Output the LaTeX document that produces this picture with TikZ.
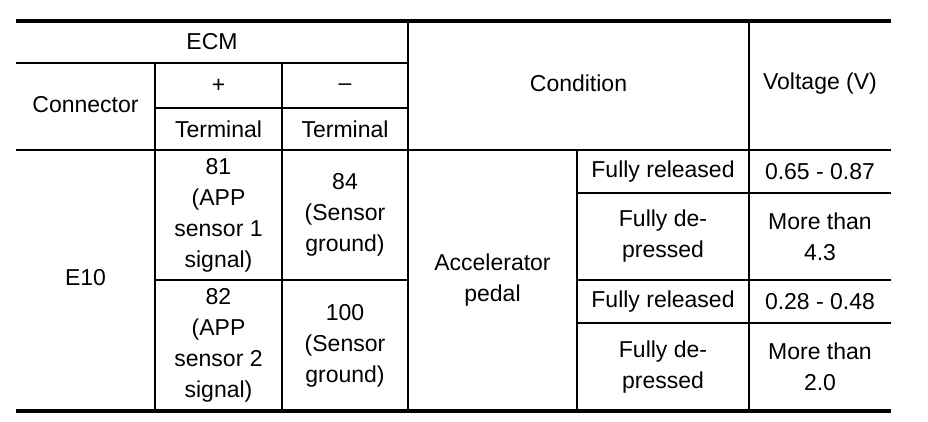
\documentclass[tikz,border=0pt]{standalone}
\usepackage{fontspec}
\setmainfont{Liberation Sans}
\usetikzlibrary{positioning}

\begin{document}
\begin{tikzpicture}[x=1pt, y=-1pt,
    cell/.style={align=center, inner sep=0pt, font=\fontsize{23}{31}\selectfont},
    rule/.style={line width=3.2pt},
    grid/.style={line width=1.8pt},
    fine/.style={line width=1.2pt}]
    \useasboundingbox (0,0) rectangle (928,422);

    % Column edges and row edges
    \def\xa{16} \def\xb{155} \def\xc{282} \def\xd{408} \def\xe{577} \def\xf{749} \def\xg{891}
    \def\ya{21} \def\yb{63} \def\yc{108} \def\yd{150} \def\ye{193} \def\yf{280} \def\yg{323} \def\yh{411}

    % Head
    \node[cell] (ecm)  at ({(\xa+\xd)/2}, {(\ya+\yb)/2}) {ECM};
    \node[cell] (conn) at ({(\xa+\xb)/2}, {(\yb+\yd)/2-2}) {Connector};
    \node[cell] (plus) at ({(\xb+\xc)/2}, {(\yb+\yc)/2}) {+};
    \node[cell] (minus) at ({(\xc+\xd)/2}, {(\yb+\yc)/2+2}) {–};
    \node[cell] (termp) at ({(\xb+\xc)/2}, {(\yc+\yd)/2}) {Terminal};
    \node[cell] (termm) at ({(\xc+\xd)/2}, {(\yc+\yd)/2}) {Terminal};
    \node[cell] (cond) at ({(\xd+\xf)/2}, {(\ya+\yd)/2-2}) {Condition};
    \node[cell] (volt) at ({(\xf+\xg)/2}, {(\ya+\yd)/2-2}) {Voltage (V)};

    % Body
    \node[cell] (e10) at ({(\xa+\xb)/2}, {(\yd+\yh)/2-3}) {E10};
    \node[cell] (t81) at ({(\xb+\xc)/2}, {(\yd+\yf)/2}) {81\\(APP\\sensor 1\\signal)};
    \node[cell] (t84) at ({(\xc+\xd)/2}, {(\yd+\yf)/2}) {84\\(Sensor\\ground)};
    \node[cell] (t82) at ({(\xb+\xc)/2}, {(\yf+\yh)/2}) {82\\(APP\\sensor 2\\signal)};
    \node[cell] (t100) at ({(\xc+\xd)/2}, {(\yf+\yh)/2}) {100\\(Sensor\\ground)};
    \node[cell] (pedal) at ({(\xd+\xe)/2}, {(\yd+\yh)/2}) {Accelerator\\pedal};

    \node[cell] (rel1) at ({(\xe+\xf)/2}, {(\yd+\ye)/2}) {Fully released};
    \node[cell] (dep1) at ({(\xe+\xf)/2}, {(\ye+\yf)/2}) {Fully de-\\pressed};
    \node[cell] (rel2) at ({(\xe+\xf)/2}, {(\yf+\yg)/2}) {Fully released};
    \node[cell] (dep2) at ({(\xe+\xf)/2}, {(\yg+\yh)/2}) {Fully de-\\pressed};
    \node[cell] (v1) at ({(\xf+\xg)/2}, {(\yd+\ye)/2}) {0.65 - 0.87};
    \node[cell] (v2) at ({(\xf+\xg)/2}, {(\ye+\yf)/2}) {More than\\4.3};
    \node[cell] (v3) at ({(\xf+\xg)/2}, {(\yf+\yg)/2}) {0.28 - 0.48};
    \node[cell] (v4) at ({(\xf+\xg)/2}, {(\yg+\yh)/2}) {More than\\2.0};

    % Rules
    \draw[rule] (\xa,\ya) -- (\xg,\ya); % top
    \draw[rule] (\xa,\yh) -- (\xg,\yh); % bottom
    \draw[grid] (\xa,\yb) -- (\xd,\yb);
    \draw[grid] (\xb,\yc) -- (\xd,\yc);
    \draw[grid] (\xa,\yd) -- (\xg,\yd);
    \draw[fine] (\xb,\yf) -- (\xd,\yf);
    \foreach \y in {\ye,\yf,\yg} {
        \draw[fine] (\xe,\y) -- (\xg,\y);
    }

    % Verticals
    \foreach \x in {\xb,\xc} {
        \draw[grid] (\x,\yb) -- (\x,\yh);
    }
    \draw[grid] (\xd,\ya) -- (\xd,\yh);
    \draw[grid] (\xf,\ya) -- (\xf,\yh);
    \draw[fine] (\xe,\yd) -- (\xe,\yh);
\end{tikzpicture}
\end{document}
